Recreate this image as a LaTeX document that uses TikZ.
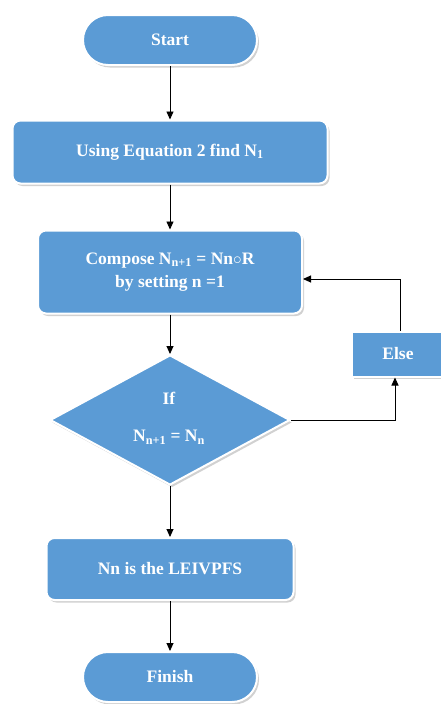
\documentclass[tikz,border=0pt]{standalone}
\usepackage{fontspec}
\setmainfont{Liberation Serif}
\usetikzlibrary{shapes.geometric,arrows.meta,shadows}
\definecolor{boxblue}{HTML}{5B9BD5}
\tikzset{
  txt/.style={text=white, font=\fontsize{17.5}{23}\selectfont\bfseries, align=center},
  base/.style={txt, fill=boxblue, draw=white, line width=2pt,
    drop shadow={shadow xshift=2pt, shadow yshift=-2.5pt, fill=black!30, opacity=0.6}},
  pill/.style={base, rounded corners=25pt, minimum width=174pt, minimum height=50pt},
  procbox/.style={base, rounded corners=8pt},
  decision/.style={base, diamond, minimum width=240pt, minimum height=130pt, inner sep=0pt},
  conn/.style={line width=0.9pt, -{Triangle[width=7pt,length=8pt]}}
}
\begin{document}
\begin{tikzpicture}[x=1pt,y=-1pt]
\useasboundingbox (0,0) rectangle (441,704);
\node[pill] (start) at (170,40) {Start};
\node[procbox, minimum width=315pt, minimum height=63pt] (eq) at (170,152) {Using Equation 2 find N\textsubscript{1}};
\node[procbox, minimum width=264pt, minimum height=83pt] (comp) at (170,272) {Compose N\textsubscript{n+1} = Nn$\circ$R\\by setting n =1};
\node[decision] (if) at (170,420) {};
\node[txt] (iftxt) at (169,398) {If};
\node[txt] (eqtxt) at (169,437) {N\textsubscript{n+1} = N\textsubscript{n}};
\node[procbox, rounded corners=0pt, minimum width=92pt, minimum height=45pt] (else) at (398,354) {Else};
\node[procbox, minimum width=247pt, minimum height=62pt] (res) at (170,569) {Nn is the LEIVPFS};
\node[pill] (fin) at (170,677) {Finish};
\coordinate (c1) at (395,420);
\coordinate (c2) at (400,279);
\draw[conn] (start.south) -- (eq.north);
\draw[conn] (eq.south) -- (comp.north);
\draw[conn] (comp.south) -- (if.north);
\draw[conn] (if.east) -- (c1) -- (else.south -| c1);
\draw[conn] (else.north -| c2) -- (c2) -- (c2 -| comp.east);
\draw[conn] (if.south) -- (res.north);
\draw[conn] (res.south) -- (fin.north);
\end{tikzpicture}
\end{document}
